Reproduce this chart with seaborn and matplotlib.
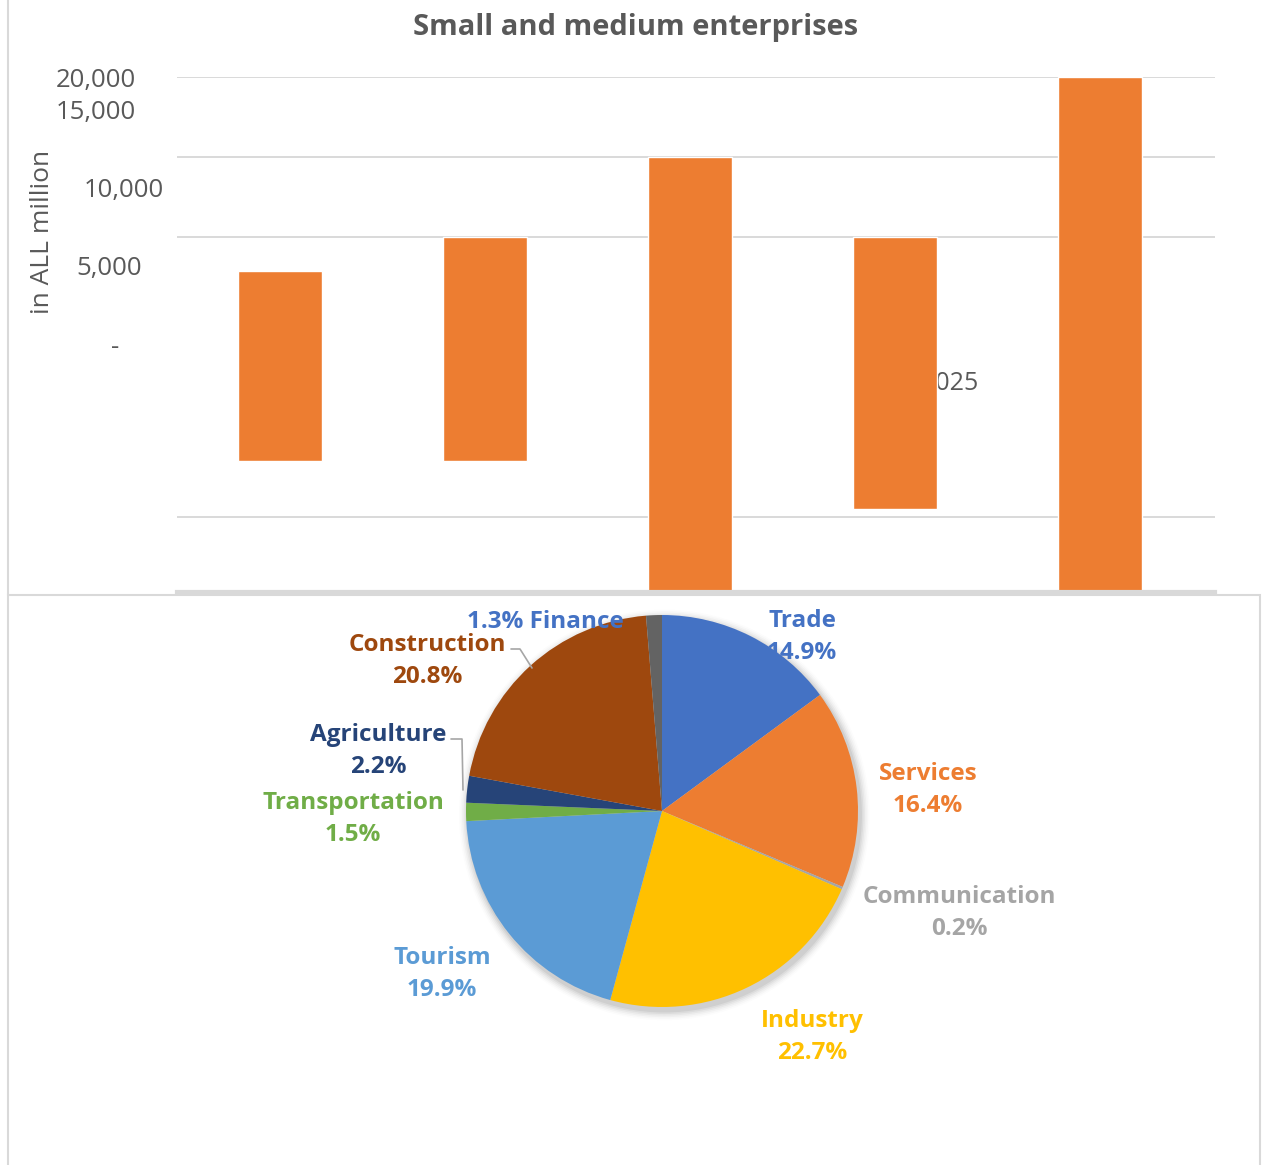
import matplotlib
matplotlib.use("Agg")
import matplotlib.pyplot as plt
from matplotlib.patches import Rectangle, Circle
from matplotlib.lines import Line2D
import numpy as np
import pandas as pd
import seaborn as sns

# ---- bar chart data (in ALL million) ----
years = ["2021", "2022", "2023", "2024", "2025"]
bar_bottom = [-4000, -4000, -13000, -7000, -13000]
bar_top = [7900, 10000, 15000, 10000, 20000]
grid_values = [-7500, 10000, 15000, 20000]
tick_labels = ["20,000", "15,000", "10,000", "5,000", "-"]

# ---- pie chart data (share of SMEs by sector, %) ----
sectors = ["Trade", "Services", "Communication", "Industry", "Tourism",
           "Transportation", "Agriculture", "Construction", "Finance"]
shares = [14.9, 16.4, 0.2, 22.7, 19.9, 1.5, 2.2, 20.8, 1.3]
sector_colors = ["#4472C4", "#ED7D31", "#A5A5A5", "#FFC000", "#5B9BD5",
                 "#70AD47", "#264478", "#9E480E", "#636363"]
label_colors = ["#4472C4", "#ED7D31", "#A5A5A5", "#FFC000", "#5B9BD5",
                "#70AD47", "#264478", "#9E480E", "#4472C4"]

sns.set_theme(style="white")
plt.rcParams["font.family"] = ["Open Sans", "DejaVu Sans"]

W, H = 1265, 1165
fig = plt.figure(figsize=(W / 100, H / 100), dpi=100)
fig.patch.set_facecolor("white")


def fx(px):
    return px / W


def fy(py):
    return 1 - py / H


TEXT = "#595959"
GRID = "#D9D9D9"

# ---- bar panel ----
ax = fig.add_axes([fx(177), fy(592), fx(1215) - fx(177), fy(77) - fy(592)])
df = pd.DataFrame({"year": years,
                   "height": np.array(bar_top) - np.array(bar_bottom)})
sns.barplot(data=df, x="year", y="height", bottom=bar_bottom,
            color="#ED7D31", saturation=1, width=0.41, ax=ax, zorder=3)
ax.set_xlim(-0.5, 4.56)
ax.set_ylim(-12200, 20000)
ax.set_yticks(grid_values)
ax.yaxis.grid(True, color=GRID, lw=1.4, zorder=0)
ax.set_axisbelow(False)
for line in ax.get_ygridlines():
    line.set_zorder(4)
ax.tick_params(left=False, bottom=False, labelleft=False, labelbottom=False)
ax.set_xlabel("")
ax.set_ylabel("")
for s in ["top", "left", "right"]:
    ax.spines[s].set_visible(False)
ax.spines["bottom"].set_color(GRID)
ax.spines["bottom"].set_linewidth(3)
ax.spines["bottom"].set_zorder(5)

# category label partly hidden behind the fourth bar
ax.text(fx(979), fy(383), years[-1], transform=fig.transFigure,
        ha="right", va="center", fontsize=18, color=TEXT, zorder=1)

fig.text(0.5 * (fx(410) + fx(862)), fy(27), "Small and medium enterprises",
         ha="center", va="center", fontsize=21, fontweight="bold", color=TEXT)
fig.text(fx(43), fy(232), "in ALL million", rotation=90,
         ha="center", va="center", fontsize=19, color=TEXT)

tick_pos = [(136, 80, "right"), (136, 113, "right"), (164, 191, "right"),
            (142, 269, "right"), (115, 347, "center")]
for lab, (px, py, ha) in zip(tick_labels, tick_pos):
    fig.text(fx(px), fy(py), lab, ha=ha, va="center", fontsize=18.5,
             color=TEXT)

# panel borders
fig.add_artist(Line2D([fx(8), fx(8)], [fy(0), fy(595)], color=GRID, lw=1.5,
                      transform=fig.transFigure))
fig.add_artist(Rectangle((fx(8), fy(1170)), fx(1260) - fx(8), fy(595) - fy(1170),
                         transform=fig.transFigure, fill=False,
                         edgecolor=GRID, lw=1.5))

# ---- pie panel ----
R = 196.0
cx, cy = 662, 811
pax = fig.add_axes([fx(cx - 420), fy(cy + 340), 840 / W, 560 / H])
pax.set_aspect("equal")
pax.axis("off")

# soft shadow under the pie
for i, a in enumerate(np.linspace(0.05, 0.012, 6)):
    pax.add_patch(Circle((0.012, -0.02), 1 + 0.008 * (i + 1), color="black",
                         alpha=a, lw=0, zorder=0))

pax.pie(shares, colors=sector_colors, startangle=90, counterclock=False,
        radius=1, wedgeprops=dict(edgecolor="none", linewidth=0),
        center=(0, 0), frame=False)
pax.set_xlim(-420 / R, 420 / R)
pax.set_ylim(-340 / R, 220 / R)

label_pos = {
    "Trade": (802, 637), "Services": (928, 790), "Communication": (959, 913),
    "Industry": (812, 1037), "Tourism": (442, 974),
    "Transportation": (353, 819), "Agriculture": (378, 751),
    "Construction": (427, 661), "Finance": (545, 622),
}


def to_pie(px, py):
    return (px - cx) / R, (cy - py) / R


for name, val, col in zip(sectors, shares, label_colors):
    x, y = to_pie(*label_pos[name])
    if name == "Finance":
        txt = f"{val:.1f}% {name}"
    else:
        txt = f"{name}\n{val:.1f}%"
    pax.text(x, y, txt, ha="center", va="center", fontsize=17.5,
             fontweight="bold", color=col, linespacing=1.4, zorder=10)

# leader lines
leaders = [[(511, 649), (520, 649), (532, 668)],
           [(451, 739), (462, 739), (463, 790)]]
for pts in leaders:
    xs, ys = zip(*[to_pie(*p) for p in pts])
    pax.plot(xs, ys, color="#A6A6A6", lw=1.2, zorder=9)

fig.savefig("out.png", dpi=100, facecolor="white")
